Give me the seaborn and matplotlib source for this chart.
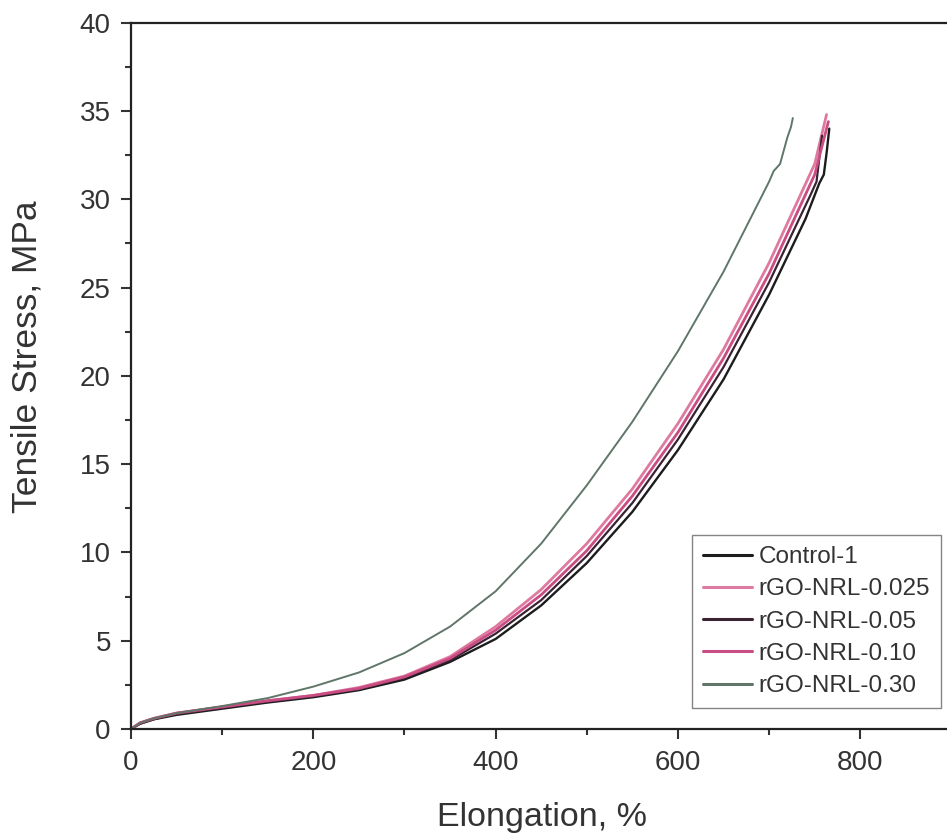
import matplotlib
matplotlib.use("Agg")
import matplotlib.pyplot as plt
import seaborn as sns
import pandas as pd
from matplotlib.ticker import MultipleLocator
from matplotlib.lines import Line2D

# ---- data ----
labels = ["Control-1", "rGO-NRL-0.025", "rGO-NRL-0.05", "rGO-NRL-0.10", "rGO-NRL-0.30"]

elong_ctrl = [0, 10, 25, 50, 100, 150, 200, 250, 300, 350, 400, 450, 500, 550, 600, 650, 700, 740, 755, 760, 763, 766]
stress_ctrl = [0, 0.3, 0.55, 0.8, 1.15, 1.5, 1.8, 2.2, 2.8, 3.8, 5.1, 7.0, 9.4, 12.3, 15.8, 19.8, 24.6, 28.9, 30.9, 31.4, 32.6, 34.0]

elong_025 = [0, 10, 25, 50, 100, 150, 200, 250, 300, 350, 400, 450, 500, 550, 600, 650, 700, 750, 763]
stress_025 = [0, 0.35, 0.6, 0.9, 1.25, 1.6, 1.9, 2.35, 3.0, 4.1, 5.8, 7.9, 10.5, 13.6, 17.3, 21.5, 26.4, 32.0, 34.8]

elong_05 = [0, 10, 25, 50, 100, 150, 200, 250, 300, 350, 400, 450, 500, 550, 600, 650, 700, 745, 752, 758]
stress_05 = [0, 0.3, 0.55, 0.85, 1.2, 1.55, 1.85, 2.25, 2.9, 3.9, 5.4, 7.3, 9.8, 12.8, 16.4, 20.5, 25.3, 30.2, 31.0, 33.6]

elong_10 = [0, 10, 25, 50, 100, 150, 200, 250, 300, 350, 400, 450, 500, 550, 600, 650, 700, 750, 765]
stress_10 = [0, 0.35, 0.6, 0.9, 1.25, 1.6, 1.9, 2.3, 2.95, 4.0, 5.6, 7.6, 10.1, 13.2, 16.8, 21.0, 25.8, 31.4, 34.4]

elong_30 = [0, 10, 25, 50, 100, 150, 200, 250, 300, 350, 400, 450, 500, 550, 600, 650, 700, 705, 712, 720, 724, 726]
stress_30 = [0, 0.35, 0.6, 0.9, 1.3, 1.75, 2.4, 3.2, 4.3, 5.8, 7.8, 10.5, 13.8, 17.4, 21.4, 25.9, 31.0, 31.6, 32.0, 33.5, 34.1, 34.6]

x_ticks = [0, 200, 400, 600, 800]
y_ticks = [0, 5, 10, 15, 20, 25, 30, 35, 40]

colors = ["#1c1c1c", "#de7a9f", "#3a2233", "#c94c82", "#5f7668"]
widths = [1.7, 2.0, 1.6, 2.0, 1.4]

series = [(elong_ctrl, stress_ctrl), (elong_025, stress_025), (elong_05, stress_05),
          (elong_10, stress_10), (elong_30, stress_30)]

frames = []
for lab, (xs, ys) in zip(labels, series):
    frames.append(pd.DataFrame({"Elongation": xs, "Stress": ys, "Sample": lab}))
df = pd.concat(frames, ignore_index=True)

sns.set_theme(style="ticks")
plt.rcParams["font.family"] = ["Liberation Sans", "DejaVu Sans"]

fig = plt.figure(figsize=(9.47, 8.40), dpi=100)
W, H = 947, 840
left, right, top, bottom = 131, 131 + 900 * 0.9116, 22.7, 729
ax = fig.add_axes([left / W, (H - bottom) / H, (right - left) / W, (bottom - top) / H])

sns.lineplot(data=df, x="Elongation", y="Stress", hue="Sample", hue_order=labels,
             palette=colors, sort=False, estimator=None, units="Sample", ax=ax, legend=False)
for line, lw in zip(ax.get_lines(), widths):
    line.set_linewidth(lw)
    line.set_solid_joinstyle("round")

ax.set_xlim(0, 900)
ax.set_ylim(0, 40)
ax.set_xticks(x_ticks)
ax.set_yticks(y_ticks)
ax.xaxis.set_minor_locator(MultipleLocator(100))
ax.yaxis.set_minor_locator(MultipleLocator(2.5))
ax.tick_params(axis="both", which="major", direction="out", length=7.5, width=1.5,
               labelsize=20, colors="#333333")
ax.tick_params(axis="x", which="major", pad=7.5)
ax.tick_params(axis="y", which="major", pad=7)
ax.tick_params(axis="both", which="minor", direction="out", length=4.5, width=1.5, colors="#333333")
for s in ax.spines.values():
    s.set_linewidth(1.6)
    s.set_color("#222222")

ax.set_xlabel("Elongation, %", fontsize=24.5, color="#333333")
ax.xaxis.label.set_va("center")
ax.xaxis.set_label_coords(0.501, -0.126)
ax.set_ylabel("Tensile Stress, MPa", fontsize=25.5, color="#333333")
ax.yaxis.label.set_va("center")
ax.yaxis.set_label_coords(-0.127, 0.527)

handles = [Line2D([0], [0], color=c, lw=2.2) for c in colors]
leg = ax.legend(handles, labels, loc="lower left",
                bbox_to_anchor=(692 / W, (H - 708) / H), bbox_transform=fig.transFigure,
                fontsize=17.5, frameon=True, fancybox=False, edgecolor="#666666",
                handlelength=2.0, handletextpad=0.3, labelspacing=0.42,
                borderpad=0.45, borderaxespad=0)
leg.get_frame().set_linewidth(1.0)
for t in leg.get_texts():
    t.set_color("#333333")

fig.savefig("out.png", dpi=100)
